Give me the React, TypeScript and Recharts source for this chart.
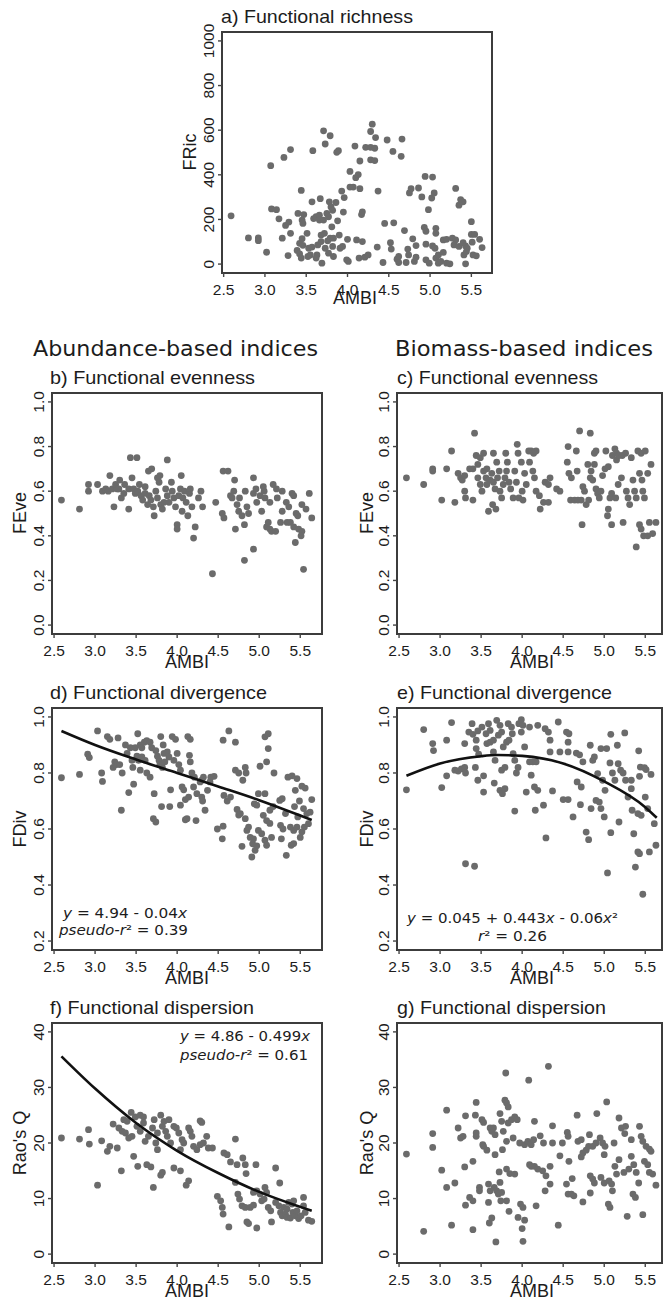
import React from "react";
import { ScatterChart, Scatter, XAxis, YAxis, ReferenceArea } from "recharts";

type Pt = [number, number];

const AMBI_TICKS = [2.5, 3, 3.5, 4, 4.5, 5, 5.5];
const FRIC_TICKS = [0, 200, 400, 600, 800, 1000];
const EVE_TICKS = [0, 0.2, 0.4, 0.6, 0.8, 1.0];
const DIV_TICKS = [0.2, 0.4, 0.6, 0.8, 1.0];
const RAO_TICKS = [0, 10, 20, 30, 40];

// a) functional richness (AMBI, FRic)
const fricPoints: Pt[] = [
  [2.59, 216], [2.8, 117], [2.92, 117], [2.92, 105], [3.02, 53], [3.07, 441], [3.08, 247], [3.14, 244],
  [3.17, 203], [3.21, 116], [3.23, 478], [3.25, 173], [3.29, 188], [3.28, 38], [3.31, 138], [3.31, 513],
  [3.39, 61], [3.42, 46], [3.44, 27], [3.44, 330], [3.4, 227], [3.47, 222], [3.42, 93], [3.46, 84],
  [3.45, 114], [3.45, 197], [3.46, 182], [3.51, 138], [3.52, 34], [3.55, 41], [3.53, 71], [3.57, 76],
  [3.58, 508], [3.57, 279], [3.59, 204], [3.62, 212], [3.63, 41], [3.62, 27], [3.66, 219], [3.66, 197],
  [3.67, 293], [3.64, 86], [3.68, 130], [3.68, 101], [3.69, 4], [3.71, 597], [3.73, 538], [3.72, 138],
  [3.73, 71], [3.71, 197], [3.75, 227], [3.77, 212], [3.76, 104], [3.77, 49], [3.78, 279], [3.79, 575],
  [3.8, 256], [3.82, 241], [3.81, 167], [3.79, 116], [3.83, 116], [3.82, 79], [3.83, 34], [3.86, 276],
  [3.87, 501], [3.89, 508], [3.88, 194], [3.91, 71], [3.94, 79], [3.9, 130], [3.93, 327], [3.96, 298],
  [3.95, 233], [3.99, 19], [4.01, 12], [4.0, 111], [4.03, 415], [4.03, 345], [4.07, 345], [4.09, 529],
  [4.1, 387], [4.13, 401], [4.11, 108], [4.14, 27], [4.15, 338], [4.15, 462], [4.17, 222], [4.18, 234],
  [4.18, 101], [4.21, 31], [4.25, 41], [4.22, 523], [4.28, 523], [4.33, 519], [4.28, 594], [4.3, 627],
  [4.28, 467], [4.33, 464], [4.34, 567], [4.36, 76], [4.37, 327], [4.43, 7], [4.45, 182], [4.48, 556],
  [4.52, 96], [4.53, 67], [4.55, 505], [4.56, 185], [4.6, 22], [4.62, 7], [4.62, 34], [4.65, 483],
  [4.66, 560], [4.69, 150], [4.71, 7], [4.73, 67], [4.74, 41], [4.75, 319], [4.77, 338], [4.79, 113],
  [4.81, 12], [4.83, 31], [4.83, 83], [4.86, 341], [4.9, 301], [4.93, 164], [4.95, 147], [4.94, 393],
  [4.95, 89], [4.95, 19], [4.99, 4], [4.98, 244], [5.03, 390], [5.02, 296], [5.05, 319], [5.03, 81],
  [5.06, 71], [5.07, 160], [5.07, 138], [5.07, 27], [5.1, 41], [5.1, 4], [5.16, 108], [5.2, 111],
  [5.16, 52], [5.13, 12], [5.2, 4], [5.24, 1], [5.27, 116], [5.31, 108], [5.29, 86], [5.35, 79],
  [5.31, 339], [5.35, 264], [5.37, 289], [5.4, 279], [5.4, 96], [5.43, 81], [5.45, 71], [5.41, 41],
  [5.43, 1], [5.44, 56], [5.5, 190], [5.5, 133], [5.54, 133], [5.51, 98], [5.52, 41], [5.56, 37],
  [5.6, 111], [5.63, 74],
];

// b) abundance-based FEve
const eveAbPoints: Pt[] = [
  [2.59, 0.56], [2.81, 0.52], [2.92, 0.63], [2.92, 0.6], [3.03, 0.63], [3.09, 0.6], [3.13, 0.61], [3.18, 0.67],
  [3.16, 0.6], [3.21, 0.61], [3.23, 0.53], [3.25, 0.63], [3.27, 0.61], [3.3, 0.65], [3.29, 0.61], [3.32, 0.57],
  [3.35, 0.59], [3.36, 0.63], [3.41, 0.52], [3.43, 0.75], [3.51, 0.75], [3.41, 0.61], [3.45, 0.66], [3.47, 0.61],
  [3.49, 0.59], [3.52, 0.6], [3.54, 0.63], [3.56, 0.58], [3.58, 0.56], [3.61, 0.59], [3.61, 0.62], [3.64, 0.54],
  [3.65, 0.69], [3.69, 0.7], [3.66, 0.58], [3.68, 0.56], [3.71, 0.53], [3.72, 0.49], [3.74, 0.6], [3.76, 0.57],
  [3.76, 0.66], [3.78, 0.64], [3.79, 0.67], [3.8, 0.54], [3.82, 0.52], [3.84, 0.55], [3.86, 0.61], [3.88, 0.74],
  [3.88, 0.58], [3.9, 0.55], [3.93, 0.64], [3.94, 0.6], [3.96, 0.57], [3.98, 0.53], [4.0, 0.45], [4.0, 0.43],
  [4.02, 0.58], [4.04, 0.61], [4.05, 0.67], [4.06, 0.51], [4.07, 0.57], [4.09, 0.6], [4.11, 0.55], [4.13, 0.49],
  [4.15, 0.59], [4.16, 0.61], [4.18, 0.53], [4.2, 0.39], [4.22, 0.44], [4.26, 0.57], [4.29, 0.6], [4.31, 0.53],
  [4.47, 0.55], [4.55, 0.5], [4.57, 0.48], [4.56, 0.69], [4.62, 0.69], [4.65, 0.58], [4.67, 0.57], [4.69, 0.6],
  [4.7, 0.65], [4.71, 0.43], [4.73, 0.54], [4.76, 0.57], [4.75, 0.51], [4.79, 0.49], [4.82, 0.45], [4.83, 0.6],
  [4.85, 0.53], [4.87, 0.5], [4.93, 0.66], [4.93, 0.59], [4.97, 0.55], [4.96, 0.61], [5.01, 0.58], [5.03, 0.51],
  [5.05, 0.62], [5.06, 0.6], [5.07, 0.57], [5.09, 0.44], [5.13, 0.43], [5.15, 0.42], [5.2, 0.42], [5.11, 0.46],
  [5.13, 0.55], [5.17, 0.63], [5.21, 0.61], [5.22, 0.57], [5.26, 0.46], [5.28, 0.51], [5.28, 0.6], [5.33, 0.55],
  [5.34, 0.46], [5.38, 0.46], [5.36, 0.53], [5.4, 0.59], [5.42, 0.58], [5.42, 0.44], [5.45, 0.5], [5.47, 0.49],
  [5.48, 0.43], [5.52, 0.42], [5.51, 0.4], [5.44, 0.37], [5.52, 0.54], [5.57, 0.52], [5.61, 0.59], [5.64, 0.48],
  [4.93, 0.34], [4.82, 0.29], [4.43, 0.23], [5.54, 0.25],
];

// c) biomass-based FEve
const eveBmPoints: Pt[] = [
  [2.59, 0.66], [2.8, 0.63], [2.91, 0.7], [2.91, 0.69], [3.02, 0.56], [3.08, 0.7], [3.14, 0.78], [3.18, 0.55],
  [3.22, 0.68], [3.25, 0.66], [3.27, 0.65], [3.3, 0.67], [3.3, 0.6], [3.31, 0.57], [3.36, 0.7], [3.4, 0.7],
  [3.4, 0.56], [3.42, 0.86], [3.44, 0.76], [3.46, 0.72], [3.49, 0.75], [3.46, 0.66], [3.49, 0.63], [3.51, 0.6],
  [3.53, 0.77], [3.53, 0.69], [3.57, 0.7], [3.56, 0.66], [3.59, 0.51], [3.64, 0.54], [3.68, 0.52], [3.57, 0.63],
  [3.61, 0.65], [3.63, 0.68], [3.65, 0.77], [3.69, 0.73], [3.65, 0.64], [3.67, 0.61], [3.7, 0.66], [3.72, 0.69],
  [3.73, 0.6], [3.75, 0.57], [3.77, 0.63], [3.79, 0.66], [3.8, 0.77], [3.82, 0.73], [3.81, 0.69], [3.84, 0.64],
  [3.86, 0.61], [3.89, 0.57], [3.91, 0.69], [3.93, 0.64], [3.94, 0.81], [3.95, 0.77], [3.96, 0.57], [3.99, 0.73],
  [4.0, 0.6], [4.01, 0.56], [4.03, 0.68], [4.05, 0.63], [4.08, 0.78], [4.11, 0.78], [4.14, 0.77], [4.17, 0.78],
  [4.09, 0.73], [4.13, 0.69], [4.15, 0.66], [4.17, 0.6], [4.21, 0.58], [4.22, 0.52], [4.26, 0.55], [4.32, 0.55],
  [4.28, 0.64], [4.32, 0.63], [4.34, 0.66], [4.42, 0.61], [4.46, 0.6], [4.56, 0.8], [4.66, 0.78], [4.55, 0.73],
  [4.57, 0.68], [4.6, 0.66], [4.59, 0.56], [4.64, 0.56], [4.68, 0.56], [4.72, 0.56], [4.67, 0.69], [4.7, 0.87],
  [4.83, 0.86], [4.74, 0.62], [4.76, 0.6], [4.73, 0.45], [4.78, 0.54], [4.81, 0.56], [4.8, 0.72], [4.84, 0.69],
  [4.88, 0.72], [4.83, 0.66], [4.86, 0.65], [4.9, 0.61], [4.92, 0.59], [4.94, 0.57], [4.96, 0.6], [4.88, 0.77],
  [4.9, 0.78], [4.98, 0.67], [5.01, 0.7], [5.05, 0.71], [5.02, 0.78], [5.1, 0.76], [5.13, 0.79], [5.15, 0.77],
  [5.04, 0.49], [5.05, 0.52], [5.07, 0.57], [5.09, 0.59], [5.14, 0.57], [5.09, 0.45], [5.15, 0.74], [5.18, 0.76],
  [5.22, 0.76], [5.26, 0.77], [5.17, 0.63], [5.21, 0.66], [5.23, 0.46], [5.27, 0.6], [5.29, 0.57], [5.31, 0.54],
  [5.33, 0.75], [5.35, 0.65], [5.37, 0.6], [5.39, 0.57], [5.41, 0.78], [5.45, 0.77], [5.5, 0.78], [5.43, 0.68],
  [5.46, 0.65], [5.43, 0.45], [5.45, 0.43], [5.47, 0.6], [5.49, 0.57], [5.48, 0.4], [5.53, 0.4], [5.59, 0.41],
  [5.39, 0.35], [5.53, 0.68], [5.57, 0.72], [5.55, 0.46], [5.63, 0.46],
];

// d) abundance-based FDiv
const divAbPoints: Pt[] = [
  [2.59, 0.783], [2.81, 0.795], [2.91, 0.867], [2.93, 0.855], [3.03, 0.95], [3.08, 0.8], [3.09, 0.77], [3.15, 0.93],
  [3.18, 0.92], [3.22, 0.82], [3.24, 0.84], [3.28, 0.925], [3.26, 0.83], [3.3, 0.83], [3.32, 0.667], [3.33, 0.8],
  [3.37, 0.9], [3.39, 0.87], [3.43, 0.89], [3.41, 0.73], [3.45, 0.845], [3.46, 0.82], [3.47, 0.76], [3.49, 0.89],
  [3.52, 0.94], [3.55, 0.9], [3.57, 0.89], [3.6, 0.91], [3.51, 0.86], [3.53, 0.845], [3.57, 0.857], [3.61, 0.845],
  [3.55, 0.81], [3.63, 0.915], [3.67, 0.91], [3.69, 0.89], [3.63, 0.8], [3.67, 0.785], [3.72, 0.726], [3.71, 0.637],
  [3.74, 0.625], [3.74, 0.88], [3.76, 0.86], [3.78, 0.845], [3.8, 0.93], [3.83, 0.9], [3.84, 0.87], [3.79, 0.83],
  [3.82, 0.82], [3.85, 0.84], [3.81, 0.68], [3.88, 0.875], [3.9, 0.857], [3.91, 0.68], [3.92, 0.74], [3.94, 0.93],
  [3.98, 0.92], [3.96, 0.845], [4.0, 0.87], [4.02, 0.83], [4.04, 0.81], [4.04, 0.685], [4.06, 0.75], [4.08, 0.74],
  [4.1, 0.705], [4.14, 0.714], [4.1, 0.633], [4.12, 0.637], [4.13, 0.93], [4.16, 0.92], [4.15, 0.863], [4.16, 0.84],
  [4.18, 0.8], [4.21, 0.785], [4.2, 0.75], [4.23, 0.63], [4.24, 0.726], [4.28, 0.768], [4.3, 0.774], [4.3, 0.714],
  [4.31, 0.7], [4.32, 0.785], [4.34, 0.667], [4.37, 0.738], [4.4, 0.768], [4.41, 0.785], [4.45, 0.788], [4.49, 0.6],
  [4.55, 0.565], [4.56, 0.917], [4.56, 0.61], [4.63, 0.95], [4.57, 0.72], [4.61, 0.7], [4.65, 0.714], [4.71, 0.91],
  [4.71, 0.81], [4.75, 0.8], [4.73, 0.67], [4.75, 0.65], [4.77, 0.655], [4.8, 0.774], [4.79, 0.538], [4.83, 0.82],
  [4.84, 0.8], [4.83, 0.637], [4.85, 0.595], [4.87, 0.607], [4.89, 0.57], [4.92, 0.547], [4.93, 0.565], [4.91, 0.5],
  [4.95, 0.524], [4.97, 0.54], [4.94, 0.69], [4.97, 0.685], [4.99, 0.726], [4.99, 0.595], [5.03, 0.583], [5.01, 0.824],
  [5.05, 0.649], [5.07, 0.726], [5.07, 0.929], [5.11, 0.94], [5.11, 0.887], [5.09, 0.84], [5.09, 0.63], [5.13, 0.62],
  [5.07, 0.56], [5.09, 0.542], [5.13, 0.667], [5.17, 0.68], [5.15, 0.57], [5.18, 0.8], [5.25, 0.702], [5.28, 0.708],
  [5.26, 0.613], [5.29, 0.6], [5.27, 0.565], [5.32, 0.655], [5.33, 0.506], [5.35, 0.785], [5.4, 0.79], [5.38, 0.607],
  [5.42, 0.595], [5.46, 0.607], [5.39, 0.542], [5.42, 0.548], [5.43, 0.68], [5.44, 0.738], [5.46, 0.78], [5.47, 0.643],
  [5.49, 0.7], [5.52, 0.753], [5.56, 0.746], [5.52, 0.59], [5.55, 0.607], [5.54, 0.673], [5.5, 0.57], [5.58, 0.655],
  [5.6, 0.619], [5.62, 0.66], [5.64, 0.705],
];
const divAbFit: Pt[] = [
  [2.59, 0.95], [3.0, 0.9], [3.5, 0.848], [4.0, 0.8], [4.5, 0.752], [5.0, 0.703], [5.5, 0.648], [5.64, 0.632],
];

// e) biomass-based FDiv
const divBmPoints: Pt[] = [
  [2.59, 0.74], [2.8, 0.955], [2.91, 0.905], [2.92, 0.88], [3.02, 0.748], [3.08, 0.917], [3.08, 0.79], [3.14, 0.98],
  [3.18, 0.81], [3.22, 0.807], [3.26, 0.815], [3.3, 0.82], [3.31, 0.8], [3.3, 0.905], [3.31, 0.476], [3.42, 0.467],
  [3.35, 0.946], [3.39, 0.976], [3.4, 0.938], [3.44, 0.917], [3.46, 0.95], [3.44, 0.887], [3.47, 0.867], [3.43, 0.82],
  [3.46, 0.774], [3.53, 0.79], [3.53, 0.732], [3.51, 0.964], [3.56, 0.94], [3.59, 0.976], [3.61, 0.952], [3.57, 0.905],
  [3.61, 0.91], [3.65, 0.917], [3.65, 0.875], [3.67, 0.845], [3.66, 0.764], [3.69, 0.988], [3.73, 0.97], [3.71, 0.935],
  [3.75, 0.946], [3.73, 0.738], [3.76, 0.726], [3.79, 0.744], [3.75, 0.81], [3.79, 0.82], [3.77, 0.893], [3.81, 0.91],
  [3.84, 0.917], [3.83, 0.976], [3.87, 0.964], [3.88, 0.94], [3.89, 0.869], [3.91, 0.845], [3.91, 0.664], [3.93, 0.8],
  [3.95, 0.82], [3.96, 0.976], [3.99, 0.99], [4.01, 0.97], [3.99, 0.946], [4.03, 0.893], [4.05, 0.732], [4.09, 0.84],
  [4.11, 0.792], [4.13, 0.84], [4.17, 0.84], [4.09, 0.964], [4.15, 0.75], [4.19, 0.738], [4.16, 0.667], [4.19, 0.97],
  [4.26, 0.685], [4.29, 0.568], [4.28, 0.958], [4.32, 0.946], [4.34, 0.875], [4.34, 0.917], [4.37, 0.736], [4.44, 0.982],
  [4.46, 0.875], [4.56, 0.875], [4.5, 0.705], [4.56, 0.705], [4.54, 0.946], [4.57, 0.94], [4.56, 0.91], [4.62, 0.643],
  [4.66, 0.871], [4.7, 0.865], [4.67, 0.768], [4.72, 0.75], [4.71, 0.687], [4.74, 0.84], [4.78, 0.589], [4.81, 0.562],
  [4.83, 0.899], [4.86, 0.845], [4.88, 0.857], [4.84, 0.673], [4.9, 0.702], [4.94, 0.696], [4.92, 0.798], [4.96, 0.887],
  [5.03, 0.887], [4.96, 0.673], [5.0, 0.643], [4.98, 0.774], [5.01, 0.738], [5.08, 0.938], [5.07, 0.836], [5.1, 0.8],
  [5.13, 0.774], [5.08, 0.587], [5.16, 0.899], [5.17, 0.833], [5.2, 0.81], [5.04, 0.443], [5.18, 0.625], [5.25, 0.943],
  [5.23, 0.8], [5.26, 0.774], [5.29, 0.714], [5.33, 0.744], [5.34, 0.667], [5.33, 0.774], [5.36, 0.583], [5.38, 0.464],
  [5.42, 0.879], [5.41, 0.655], [5.45, 0.649], [5.41, 0.518], [5.43, 0.512], [5.44, 0.821], [5.49, 0.819], [5.51, 0.812],
  [5.43, 0.788], [5.5, 0.714], [5.53, 0.673], [5.55, 0.518], [5.57, 0.795], [5.61, 0.619], [5.63, 0.542], [5.47, 0.367],
];
const divBmFit: Pt[] = [
  [2.59, 0.79], [3.0, 0.834], [3.5, 0.86], [3.7, 0.864], [4.0, 0.861], [4.5, 0.834], [5.0, 0.77], [5.5, 0.678], [5.64, 0.64],
];

// f) abundance-based Rao's Q
const raoAbPoints: Pt[] = [
  [2.59, 20.9], [2.81, 20.7], [2.92, 22.4], [2.93, 19.8], [3.03, 12.4], [3.08, 20.4], [3.15, 18.5], [3.18, 19.4],
  [3.27, 19.1], [3.22, 23.4], [3.29, 22.7], [3.33, 22.1], [3.37, 21.8], [3.32, 15.0], [3.35, 24.2], [3.39, 23.9],
  [3.44, 25.5], [3.41, 20.9], [3.45, 21.2], [3.47, 17.6], [3.52, 15.8], [3.49, 24.7], [3.55, 25.0], [3.59, 24.7],
  [3.51, 23.0], [3.55, 22.1], [3.59, 23.6], [3.61, 20.3], [3.65, 21.2], [3.63, 16.1], [3.68, 15.7], [3.7, 22.7],
  [3.72, 24.2], [3.71, 12.0], [3.74, 20.0], [3.76, 18.8], [3.76, 21.8], [3.8, 25.0], [3.8, 14.2], [3.82, 14.7],
  [3.82, 23.0], [3.84, 23.9], [3.86, 22.1], [3.88, 21.2], [3.9, 24.2], [3.92, 20.0], [3.96, 15.5], [3.96, 23.0],
  [3.99, 22.7], [4.02, 21.8], [4.04, 18.8], [4.04, 15.0], [4.06, 20.6], [4.08, 20.0], [4.11, 12.4], [4.14, 13.2],
  [4.14, 22.7], [4.16, 22.1], [4.18, 21.2], [4.2, 19.4], [4.24, 18.8], [4.28, 19.7], [4.28, 24.0], [4.3, 23.7],
  [4.32, 20.0], [4.36, 21.2], [4.38, 19.1], [4.43, 19.1], [4.49, 10.4], [4.53, 9.6], [4.55, 8.4], [4.56, 7.2],
  [4.57, 18.2], [4.61, 17.9], [4.63, 4.9], [4.65, 16.6], [4.71, 20.7], [4.73, 16.1], [4.71, 12.9], [4.74, 10.8],
  [4.76, 9.9], [4.79, 8.7], [4.83, 8.4], [4.8, 17.3], [4.83, 16.1], [4.84, 14.5], [4.85, 5.8], [4.87, 5.5],
  [4.89, 8.4], [4.93, 8.8], [4.96, 16.1], [4.97, 4.7], [4.93, 11.1], [4.97, 11.4], [5.01, 10.8], [5.03, 9.6],
  [5.06, 9.9], [5.07, 12.0], [5.09, 11.1], [5.11, 8.4], [5.14, 7.8], [5.15, 5.8], [5.2, 15.5], [5.2, 9.3],
  [5.24, 8.7], [5.25, 12.8], [5.26, 7.5], [5.28, 6.9], [5.32, 7.2], [5.3, 8.4], [5.34, 8.1], [5.34, 6.6],
  [5.38, 6.5], [5.36, 9.3], [5.4, 9.0], [5.41, 7.5], [5.44, 6.9], [5.46, 7.8], [5.42, 9.6], [5.48, 6.4],
  [5.51, 6.9], [5.54, 10.2], [5.54, 8.7], [5.56, 7.5], [5.6, 6.1], [5.64, 5.9],
];
const raoAbFit: Pt[] = [
  [2.59, 35.6], [3.0, 29.8], [3.5, 23.6], [4.0, 18.6], [4.5, 14.6], [5.0, 11.2], [5.5, 8.5], [5.64, 7.8],
];

// g) biomass-based Rao's Q
const raoBmPoints: Pt[] = [
  [2.59, 18.0], [2.8, 4.1], [2.91, 21.7], [2.91, 19.2], [3.02, 15.1], [3.08, 25.9], [3.08, 12.0], [3.14, 5.2],
  [3.18, 12.8], [3.22, 22.7], [3.25, 20.9], [3.28, 21.2], [3.3, 15.7], [3.31, 24.9], [3.31, 8.8], [3.36, 10.2],
  [3.4, 9.6], [3.4, 4.4], [3.4, 16.7], [3.43, 25.0], [3.44, 21.2], [3.44, 21.8], [3.44, 27.3], [3.48, 12.0],
  [3.48, 11.4], [3.51, 24.2], [3.53, 23.7], [3.52, 19.7], [3.53, 19.4], [3.57, 18.7], [3.59, 12.6], [3.61, 11.4],
  [3.59, 9.3], [3.6, 5.6], [3.61, 22.7], [3.63, 22.1], [3.63, 6.5], [3.65, 22.7], [3.67, 21.5], [3.66, 12.0],
  [3.69, 11.4], [3.71, 10.8], [3.67, 17.9], [3.68, 2.2], [3.72, 14.8], [3.73, 25.3], [3.75, 23.9], [3.77, 22.1],
  [3.73, 12.9], [3.75, 11.1], [3.74, 9.6], [3.76, 18.8], [3.79, 27.7], [3.81, 27.2], [3.83, 26.5], [3.8, 32.6],
  [3.81, 20.3], [3.81, 9.6], [3.83, 23.6], [3.87, 24.2], [3.91, 24.7], [3.94, 24.2], [3.81, 15.3], [3.85, 14.5],
  [3.84, 7.7], [3.89, 20.9], [3.91, 14.4], [3.95, 6.6], [3.97, 20.0], [3.98, 9.0], [4.01, 8.4], [4.0, 4.6],
  [4.01, 2.3], [4.03, 6.1], [4.03, 19.7], [4.07, 20.3], [4.11, 19.7], [4.08, 31.3], [4.09, 16.1], [4.11, 15.8],
  [4.15, 15.8], [4.14, 20.6], [4.15, 23.9], [4.17, 8.7], [4.19, 15.3], [4.25, 15.0], [4.22, 21.3], [4.26, 20.0],
  [4.28, 11.4], [4.29, 14.1], [4.32, 33.8], [4.34, 12.6], [4.34, 15.8], [4.37, 23.1], [4.37, 20.0], [4.44, 5.2],
  [4.46, 17.7], [4.49, 20.0], [4.54, 12.6], [4.56, 10.8], [4.55, 21.9], [4.56, 21.2], [4.57, 16.7], [4.6, 10.8],
  [4.63, 10.5], [4.61, 13.6], [4.67, 25.0], [4.68, 20.3], [4.72, 20.6], [4.72, 17.5], [4.74, 18.2], [4.74, 9.4],
  [4.78, 18.7], [4.81, 19.4], [4.82, 21.5], [4.83, 14.1], [4.86, 13.5], [4.88, 12.8], [4.83, 11.0], [4.86, 19.4],
  [4.9, 20.0], [4.91, 25.3], [4.95, 20.9], [4.96, 13.8], [5.0, 12.8], [4.98, 20.0], [5.01, 19.4], [5.0, 17.9],
  [5.03, 27.4], [5.05, 9.0], [5.07, 8.4], [5.06, 13.2], [5.09, 12.6], [5.1, 11.4], [5.12, 20.0], [5.13, 15.8],
  [5.15, 14.4], [5.18, 24.5], [5.18, 17.0], [5.21, 22.7], [5.26, 23.0], [5.24, 14.7], [5.25, 21.7], [5.28, 6.8],
  [5.3, 15.3], [5.33, 20.6], [5.33, 17.6], [5.36, 16.1], [5.35, 10.8], [5.38, 10.2], [5.39, 14.7], [5.42, 12.8],
  [5.43, 23.0], [5.45, 21.2], [5.47, 20.3], [5.47, 7.1], [5.49, 16.7], [5.53, 16.1], [5.51, 19.4], [5.55, 18.9],
  [5.57, 18.5], [5.55, 14.7], [5.59, 14.4], [5.63, 12.4],
];

const SANS = "'Liberation Sans', Arial, Helvetica, sans-serif";
const VERD = "'DejaVu Sans', Verdana, sans-serif";
const INK = "#1c1c1c";
const DOT = "#6b6b6b";
const PAD_TOP = 20;

const toXY = (pts: Pt[]) => pts.map(([x, y]) => ({ x, y }));

const Dot = (p: any) => <circle cx={p.cx} cy={p.cy} r={3.4} fill={DOT} />;
const NoDot = () => <g />;

const XTick = (p: any) => (
  <text x={p.x} y={p.y + 15.5} textAnchor="middle" fontSize={15.5} fontFamily={SANS} fill={INK}>
    {Number(p.payload.value).toFixed(1)}
  </text>
);

const makeYTick = (digits: number) => (p: any) => {
  const cx = p.x - 7;
  return (
    <text
      x={cx}
      y={p.y}
      dy="0.35em"
      transform={`rotate(-90, ${cx}, ${p.y})`}
      textAnchor="middle"
      fontSize={15.5}
      fontFamily={SANS}
      fill={INK}
    >
      {Number(p.payload.value).toFixed(digits)}
    </text>
  );
};

interface PanelProps {
  left: number;
  top: number;
  w: number;
  h: number;
  xDomain: [number, number];
  yDomain: [number, number];
  yTicks: number[];
  yDigits: number;
  points: Pt[];
  fit?: Pt[];
}

function Panel({ left, top, w, h, xDomain, yDomain, yTicks, yDigits, points, fit }: PanelProps) {
  return (
    <div style={{ position: "absolute", left: left - 50, top: top - PAD_TOP }}>
      <ScatterChart width={w + 56} height={h + PAD_TOP + 45} margin={{ top: PAD_TOP, right: 6, bottom: 0, left: 0 }}>
        <XAxis
          type="number"
          dataKey="x"
          domain={xDomain}
          allowDataOverflow
          ticks={AMBI_TICKS}
          interval={0}
          height={45}
          axisLine={false}
          tickLine={{ stroke: "#444", strokeWidth: 1.4 }}
          tickSize={4}
          tickMargin={2}
          tick={XTick}
        />
        <YAxis
          type="number"
          dataKey="y"
          domain={yDomain}
          allowDataOverflow
          ticks={yTicks}
          interval={0}
          width={50}
          axisLine={false}
          tickLine={{ stroke: "#444", strokeWidth: 1.4 }}
          tickSize={4}
          tickMargin={2}
          tick={makeYTick(yDigits)}
        />
        <ReferenceArea
          x1={xDomain[0]}
          x2={xDomain[1]}
          y1={yDomain[0]}
          y2={yDomain[1]}
          fill="none"
          stroke="#3c3c3c"
          strokeWidth={2}
          ifOverflow="visible"
        />
        <Scatter data={toXY(points)} shape={Dot} isAnimationActive={false} />
        {fit && (
          <Scatter
            data={toXY(fit)}
            line={{ stroke: "#111", strokeWidth: 2.6 }}
            lineJointType="monotoneX"
            shape={NoDot}
            isAnimationActive={false}
          />
        )}
      </ScatterChart>
    </div>
  );
}

const Title = ({ x, y, tl, children }: any) => (
  <text x={x} y={y} fontSize={19} fontFamily={SANS} fill={INK} textLength={tl} lengthAdjust="spacingAndGlyphs">
    {children}
  </text>
);

const AxisName = ({ x, y, children }: any) => (
  <text x={x} y={y} fontSize={18} fontFamily={SANS} fill={INK} textAnchor="middle">
    {children}
  </text>
);

const YName = ({ cx, cy, children }: any) => (
  <text
    x={cx}
    y={cy}
    dy="0.35em"
    transform={`rotate(-90, ${cx}, ${cy})`}
    fontSize={18}
    fontFamily={SANS}
    fill={INK}
    textAnchor="middle"
  >
    {children}
  </text>
);

const Eq = ({ x, y, tl, children }: any) => (
  <text x={x} y={y} fontSize={14.5} fontFamily={VERD} fill={INK} textLength={tl} lengthAdjust="spacingAndGlyphs">
    {children}
  </text>
);

const X_LEFT: [number, number] = [2.475, 5.765];
const X_RIGHT: [number, number] = [2.475, 5.704];

export default function App() {
  return (
    <div style={{ position: "absolute", left: 0, top: 0, width: 663, height: 1303, overflow: "hidden", background: "#fff" }}>
      <Panel left={222} top={32} w={270} h={241} xDomain={[2.48, 5.75]} yDomain={[-40, 1040]} yTicks={FRIC_TICKS} yDigits={0} points={fricPoints} />
      <Panel left={52} top={393} w={270} h={241} xDomain={X_LEFT} yDomain={[-0.04, 1.04]} yTicks={EVE_TICKS} yDigits={1} points={eveAbPoints} />
      <Panel left={397} top={393} w={265} h={241} xDomain={X_RIGHT} yDomain={[-0.04, 1.04]} yTicks={EVE_TICKS} yDigits={1} points={eveBmPoints} />
      <Panel left={52} top={708} w={270} h={242} xDomain={X_LEFT} yDomain={[0.168, 1.032]} yTicks={DIV_TICKS} yDigits={1} points={divAbPoints} fit={divAbFit} />
      <Panel left={397} top={708} w={265} h={242} xDomain={X_RIGHT} yDomain={[0.168, 1.032]} yTicks={DIV_TICKS} yDigits={1} points={divBmPoints} fit={divBmFit} />
      <Panel left={52} top={1023} w={270} h={240} xDomain={X_LEFT} yDomain={[-1.6, 41.6]} yTicks={RAO_TICKS} yDigits={0} points={raoAbPoints} fit={raoAbFit} />
      <Panel left={397} top={1023} w={265} h={240} xDomain={X_RIGHT} yDomain={[-1.6, 41.6]} yTicks={RAO_TICKS} yDigits={0} points={raoBmPoints} />

      <svg width={663} height={1303} style={{ position: "absolute", left: 0, top: 0, pointerEvents: "none" }}>
        <Title x={221} y={23} tl={192}>a) Functional richness</Title>
        <Title x={50} y={384} tl={205}>b) Functional evenness</Title>
        <Title x={397} y={384} tl={201}>c) Functional evenness</Title>
        <Title x={50} y={699} tl={217}>d) Functional divergence</Title>
        <Title x={397} y={699} tl={215}>e) Functional divergence</Title>
        <Title x={50} y={1014} tl={204}>f) Functional dispersion</Title>
        <Title x={397} y={1014} tl={209}>g) Functional dispersion</Title>

        <text x={33} y={356} fontSize={22} fontFamily={VERD} fill={INK} textLength={285} lengthAdjust="spacingAndGlyphs">
          Abundance-based indices
        </text>
        <text x={395} y={356} fontSize={22} fontFamily={VERD} fill={INK} textLength={258} lengthAdjust="spacingAndGlyphs">
          Biomass-based indices
        </text>

        <AxisName x={355} y={304}>AMBI</AxisName>
        <AxisName x={187} y={668}>AMBI</AxisName>
        <AxisName x={532} y={668}>AMBI</AxisName>
        <AxisName x={187} y={984}>AMBI</AxisName>
        <AxisName x={532} y={984}>AMBI</AxisName>
        <AxisName x={187} y={1297}>AMBI</AxisName>
        <AxisName x={532} y={1297}>AMBI</AxisName>

        <YName cx={190} cy={152}>FRic</YName>
        <YName cx={20} cy={513}>FEve</YName>
        <YName cx={367} cy={513}>FEve</YName>
        <YName cx={20} cy={829}>FDiv</YName>
        <YName cx={367} cy={829}>FDiv</YName>
        <YName cx={20} cy={1143}>Rao's Q</YName>
        <YName cx={367} cy={1143}>Rao's Q</YName>

        <Eq x={63} y={918} tl={124}>
          <tspan fontStyle="italic">y</tspan> = 4.94 - 0.04<tspan fontStyle="italic">x</tspan>
        </Eq>
        <Eq x={59} y={935} tl={129}>
          <tspan fontStyle="italic">pseudo-r</tspan>² = 0.39
        </Eq>
        <Eq x={407} y={923} tl={211}>
          <tspan fontStyle="italic">y</tspan> = 0.045 + 0.443<tspan fontStyle="italic">x</tspan> - 0.06<tspan fontStyle="italic">x</tspan>²
        </Eq>
        <Eq x={478} y={941} tl={69}>
          <tspan fontStyle="italic">r</tspan>² = 0.26
        </Eq>
        <Eq x={180} y={1041} tl={130}>
          <tspan fontStyle="italic">y</tspan> = 4.86 - 0.499<tspan fontStyle="italic">x</tspan>
        </Eq>
        <Eq x={180} y={1060} tl={128}>
          <tspan fontStyle="italic">pseudo-r</tspan>² = 0.61
        </Eq>
      </svg>
    </div>
  );
}
